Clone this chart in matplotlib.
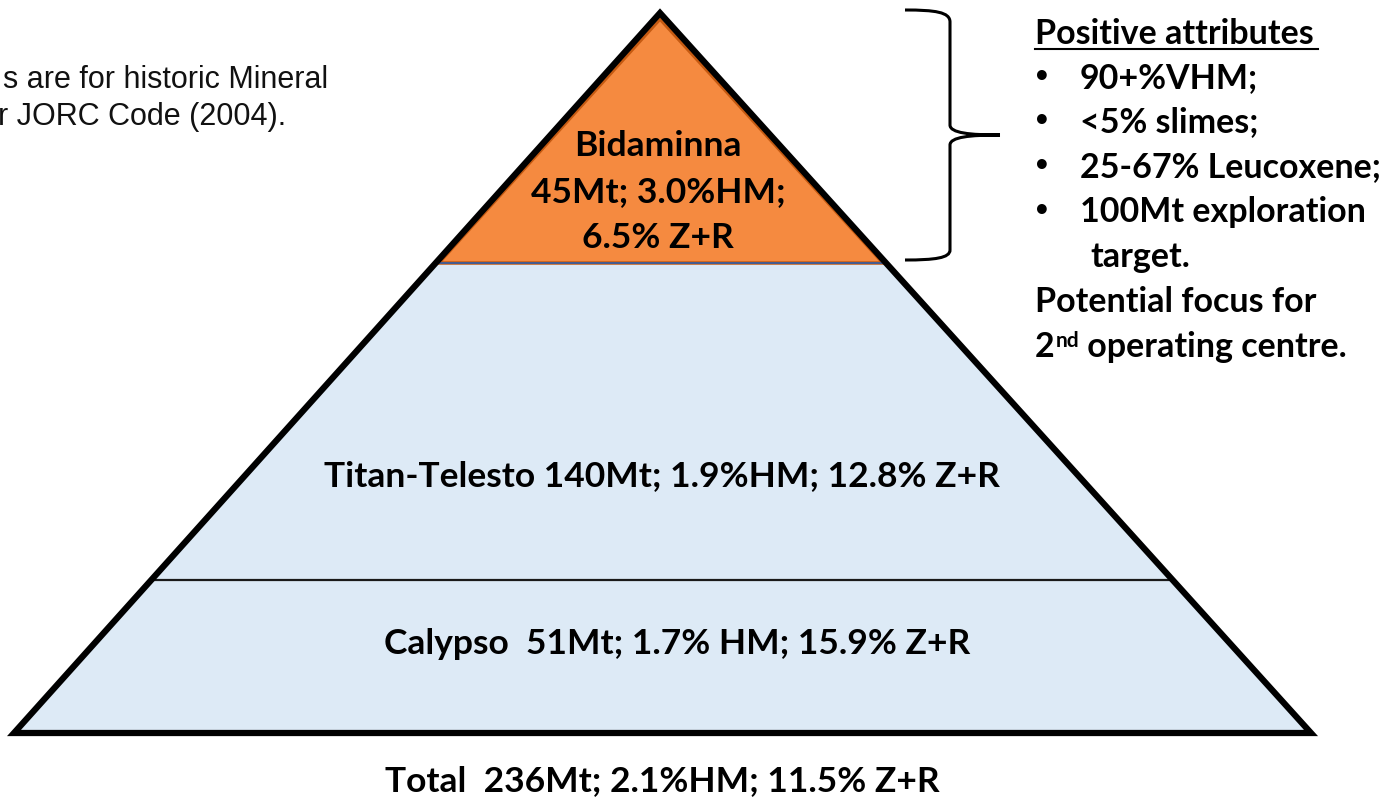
import matplotlib
matplotlib.use("Agg")
import matplotlib.pyplot as plt
from matplotlib.patches import Polygon, PathPatch
from matplotlib.path import Path

# ---- data ----
layer_names = ["Bidaminna", "Titan-Telesto", "Calypso"]
layer_labels = ["Bidaminna\n45Mt; 3.0%HM;\n6.5% Z+R",
                "Titan-Telesto 140Mt; 1.9%HM; 12.8% Z+R",
                "Calypso  51Mt; 1.7% HM; 15.9% Z+R"]
total_label = "Total  236Mt; 2.1%HM; 11.5% Z+R"
note_lines = ["s are for historic Mineral", "r JORC Code (2004)."]
attr_title = "Positive attributes"
attr_bullets = ["90+%VHM;", "<5% slimes;", "25-67% Leucoxene;", "100Mt exploration"]
attr_cont = "target."
focus_lines = ["Potential focus for", "2", "nd", " operating centre."]

W, H = 1379, 799
fig = plt.figure(figsize=(W / 100, H / 100), dpi=100)
ax = fig.add_axes([0, 0, 1, 1])
ax.set_xlim(0, W)
ax.set_ylim(H, 0)
ax.axis("off")

BOLD = "Lato"
apex = (660, 13)
bl, br = (14, 733), (1311, 733)

def x_at(y, side):
    t = (y - apex[1]) / (bl[1] - apex[1])
    if side == "l":
        return apex[0] + t * (bl[0] - apex[0])
    return apex[0] + t * (br[0] - apex[0])

# light blue body
body = Polygon([apex, bl, br], closed=True, facecolor="#DDEAF6",
               edgecolor="none", zorder=1)
ax.add_patch(body)

# orange top
y_top = 263
orange = Polygon([(apex[0], apex[1] + 6), (x_at(y_top, "l") + 3, y_top),
                  (x_at(y_top, "r") - 3, y_top)], closed=True,
                 facecolor="#F58A40", edgecolor="#C55A11", lw=2.5, zorder=2)
ax.add_patch(orange)
ax.plot([x_at(y_top, "l"), x_at(y_top, "r")], [y_top, y_top], color="#3A5D9C", lw=1.3, zorder=3)
ax.plot([apex[0], x_at(y_top, "l")], [apex[1] + 3, y_top], color="#4472C4", lw=1.0, zorder=3)
ax.plot([apex[0], x_at(y_top, "r")], [apex[1] + 3, y_top], color="#4472C4", lw=1.0, zorder=3)

# divider
y_div = 580
ax.plot([x_at(y_div, "l"), x_at(y_div, "r")], [y_div, y_div], color="#1a1a1a", lw=1.6, zorder=3)

# outline
outline = Polygon([apex, bl, br], closed=True, facecolor="none",
                  edgecolor="black", lw=4.5, joinstyle="miter", zorder=4)
ax.add_patch(outline)

# layer labels
fs = 25.5
ax.text(658, 192, layer_labels[0], ha="center", va="center", fontsize=fs,
        fontweight="bold", family=BOLD, linespacing=1.55, zorder=5)
ax.text(662, 476, layer_labels[1], ha="center", va="center", fontsize=fs,
        fontweight="bold", family=BOLD, zorder=5)
ax.text(677, 644, layer_labels[2], ha="center", va="center", fontsize=fs,
        fontweight="bold", family=BOLD, zorder=5)
ax.text(662, 781, total_label, ha="center", va="center", fontsize=fs,
        fontweight="bold", family=BOLD, zorder=5)

# note text (top-left)
ax.text(3, 80, note_lines[0], ha="left", va="center", fontsize=22,
        family="Liberation Sans", color="#111111")
ax.text(-2, 117, note_lines[1], ha="left", va="center", fontsize=22,
        family="Liberation Sans", color="#111111")

# brace
verts = [(905, 10), (935, 10), (950, 12), (950, 22),
         (950, 125),
         (950, 133), (970, 135), (1000, 135),
         (970, 135), (950, 137), (950, 145),
         (950, 250),
         (950, 258), (935, 260), (905, 260)]
codes = [Path.MOVETO, Path.CURVE4, Path.CURVE4, Path.CURVE4,
         Path.LINETO,
         Path.CURVE4, Path.CURVE4, Path.CURVE4,
         Path.CURVE4, Path.CURVE4, Path.CURVE4,
         Path.LINETO,
         Path.CURVE4, Path.CURVE4, Path.CURVE4]
ax.add_patch(PathPatch(Path(verts, codes), facecolor="none", edgecolor="black", lw=2.2))

# right-hand attributes
rfs = 24.5
ax.text(1035, 34, attr_title, ha="left", va="center", fontsize=rfs,
        fontweight="bold", family=BOLD)
ax.plot([1035, 1318], [49, 49], color="black", lw=1.5)
ys = [78, 122, 167, 212]
for y, b in zip(ys, attr_bullets):
    ax.text(1033, y, "\u2022", ha="left", va="center", fontsize=20,
            fontweight="bold", family="DejaVu Sans")
    ax.text(1080, y, b, ha="left", va="center", fontsize=rfs,
            fontweight="bold", family=BOLD)
ax.text(1090, 257, attr_cont, ha="left", va="center", fontsize=rfs,
        fontweight="bold", family=BOLD)
ax.text(1035, 302, focus_lines[0], ha="left", va="center", fontsize=rfs,
        fontweight="bold", family=BOLD)
t2 = ax.text(1035, 347, focus_lines[1], ha="left", va="center", fontsize=rfs,
             fontweight="bold", family=BOLD)
t_nd = ax.annotate(focus_lines[2], xy=(1, 1), xycoords=t2, ha="left", va="top",
                   fontsize=15, fontweight="bold", family=BOLD, xytext=(0.5, 0),
                   textcoords="offset points")
ax.annotate(focus_lines[3], xy=(1, 0), xycoords=(t_nd, t2), ha="left", va="bottom",
            fontsize=rfs, fontweight="bold", family=BOLD)

fig.savefig("out.png", dpi=100, facecolor="white")
